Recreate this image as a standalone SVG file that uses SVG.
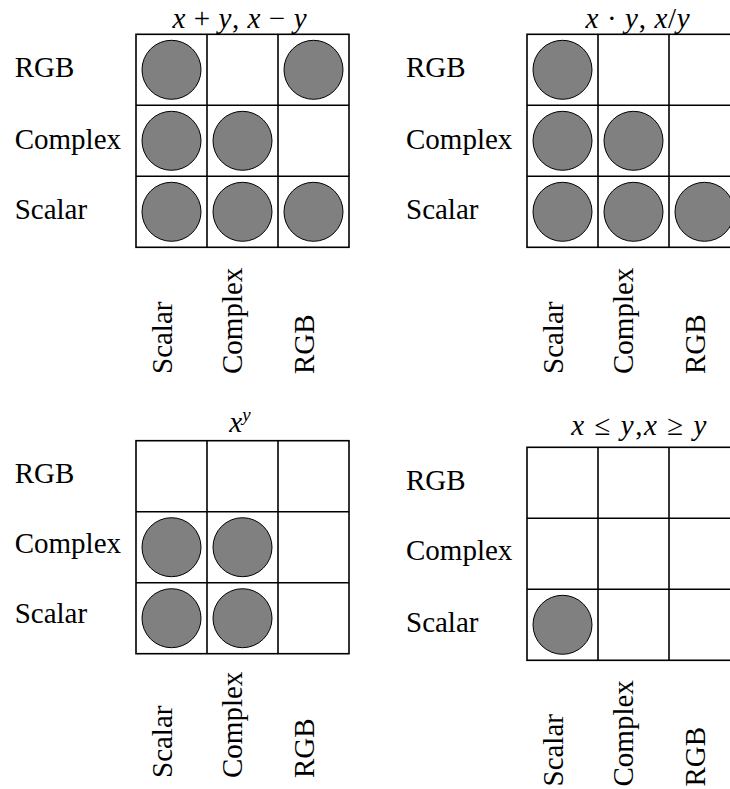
<svg xmlns="http://www.w3.org/2000/svg" width="730" height="789" viewBox="0 0 730 789">
<style>
text{font-size:29px;fill:#000}
text,tspan,.t{font-family:"Liberation Serif","Times New Roman",serif !important}
.i{font-style:italic}
.grid{fill:#fff;stroke:#000;stroke-width:1.6}
.ln{stroke:#000;stroke-width:1.6}
.dot{fill:#808080;stroke:#000;stroke-width:1}
</style>
<rect width="730" height="789" fill="#fff"/>

<g id="panel-add">
  <text class="t" x="239.5" y="27.7" text-anchor="middle" textLength="134" lengthAdjust="spacing"><tspan class="i">x</tspan> + <tspan class="i">y</tspan>, <tspan class="i">x</tspan> − <tspan class="i">y</tspan></text>
  <rect class="grid" x="136" y="34.3" width="213" height="213"/>
  <line class="ln" x1="207" y1="34.3" x2="207" y2="247.3"/>
  <line class="ln" x1="278" y1="34.3" x2="278" y2="247.3"/>
  <line class="ln" x1="136" y1="105.3" x2="349" y2="105.3"/>
  <line class="ln" x1="136" y1="176.3" x2="349" y2="176.3"/>
  <circle class="dot" cx="171.5" cy="69.8" r="29.5"/>
  <circle class="dot" cx="313.5" cy="69.8" r="29.5"/>
  <circle class="dot" cx="171.5" cy="140.8" r="29.5"/>
  <circle class="dot" cx="242.5" cy="140.8" r="29.5"/>
  <circle class="dot" cx="171.5" cy="211.8" r="29.5"/>
  <circle class="dot" cx="242.5" cy="211.8" r="29.5"/>
  <circle class="dot" cx="313.5" cy="211.8" r="29.5"/>
  <text class="t" x="14.7" y="77.3">RGB</text>
  <text class="t" x="14.7" y="149">Complex</text>
  <text class="t" x="14.7" y="219">Scalar</text>
  <text class="t" transform="translate(171.7,374) rotate(-90)">Scalar</text>
  <text class="t" transform="translate(242.2,374) rotate(-90)">Complex</text>
  <text class="t" transform="translate(313.5,374) rotate(-90)">RGB</text>
</g>

<g id="panel-mul">
  <text class="t" x="637.5" y="27.7" text-anchor="middle" textLength="104" lengthAdjust="spacing"><tspan class="i">x</tspan> · <tspan class="i">y</tspan>, <tspan class="i">x</tspan>/<tspan class="i">y</tspan></text>
  <rect class="grid" x="527" y="34.3" width="213" height="213"/>
  <line class="ln" x1="598" y1="34.3" x2="598" y2="247.3"/>
  <line class="ln" x1="669" y1="34.3" x2="669" y2="247.3"/>
  <line class="ln" x1="527" y1="105.3" x2="740" y2="105.3"/>
  <line class="ln" x1="527" y1="176.3" x2="740" y2="176.3"/>
  <circle class="dot" cx="562.5" cy="69.8" r="29.5"/>
  <circle class="dot" cx="562.5" cy="140.8" r="29.5"/>
  <circle class="dot" cx="633.5" cy="140.8" r="29.5"/>
  <circle class="dot" cx="562.5" cy="211.8" r="29.5"/>
  <circle class="dot" cx="633.5" cy="211.8" r="29.5"/>
  <circle class="dot" cx="704.5" cy="211.8" r="29.5"/>
  <text class="t" x="406" y="77.3">RGB</text>
  <text class="t" x="406" y="149">Complex</text>
  <text class="t" x="406" y="219">Scalar</text>
  <text class="t" transform="translate(562.7,374) rotate(-90)">Scalar</text>
  <text class="t" transform="translate(633.2,374) rotate(-90)">Complex</text>
  <text class="t" transform="translate(704.5,374) rotate(-90)">RGB</text>
</g>

<g id="panel-pow">
  <text class="t" x="240" y="431.7" text-anchor="middle"><tspan class="i">x</tspan><tspan class="i" dy="-11" font-size="19">y</tspan></text>
  <rect class="grid" x="136" y="440.7" width="213" height="213"/>
  <line class="ln" x1="207" y1="440.7" x2="207" y2="653.7"/>
  <line class="ln" x1="278" y1="440.7" x2="278" y2="653.7"/>
  <line class="ln" x1="136" y1="511.7" x2="349" y2="511.7"/>
  <line class="ln" x1="136" y1="582.7" x2="349" y2="582.7"/>
  <circle class="dot" cx="171.5" cy="547.2" r="29.5"/>
  <circle class="dot" cx="242.5" cy="547.2" r="29.5"/>
  <circle class="dot" cx="171.5" cy="618.2" r="29.5"/>
  <circle class="dot" cx="242.5" cy="618.2" r="29.5"/>
  <text class="t" x="14.7" y="483.3">RGB</text>
  <text class="t" x="14.7" y="553.3">Complex</text>
  <text class="t" x="14.7" y="623.3">Scalar</text>
  <text class="t" transform="translate(171.7,778) rotate(-90)">Scalar</text>
  <text class="t" transform="translate(242.2,778) rotate(-90)">Complex</text>
  <text class="t" transform="translate(313.5,778) rotate(-90)">RGB</text>
</g>

<g id="panel-cmp">
  <text class="t" x="638.8" y="435" text-anchor="middle" textLength="135" lengthAdjust="spacing"><tspan class="i">x</tspan> ≤ <tspan class="i">y</tspan>,<tspan class="i">x</tspan> ≥ <tspan class="i">y</tspan></text>
  <rect class="grid" x="527" y="447.3" width="213" height="213"/>
  <line class="ln" x1="598" y1="447.3" x2="598" y2="660.3"/>
  <line class="ln" x1="669" y1="447.3" x2="669" y2="660.3"/>
  <line class="ln" x1="527" y1="518.3" x2="740" y2="518.3"/>
  <line class="ln" x1="527" y1="589.3" x2="740" y2="589.3"/>
  <circle class="dot" cx="562.5" cy="624.8" r="29.5"/>
  <text class="t" x="406" y="490">RGB</text>
  <text class="t" x="406" y="560">Complex</text>
  <text class="t" x="406" y="631.7">Scalar</text>
  <text class="t" transform="translate(562.7,786.5) rotate(-90)">Scalar</text>
  <text class="t" transform="translate(633.2,786.5) rotate(-90)">Complex</text>
  <text class="t" transform="translate(704.5,786.5) rotate(-90)">RGB</text>
</g>
</svg>
